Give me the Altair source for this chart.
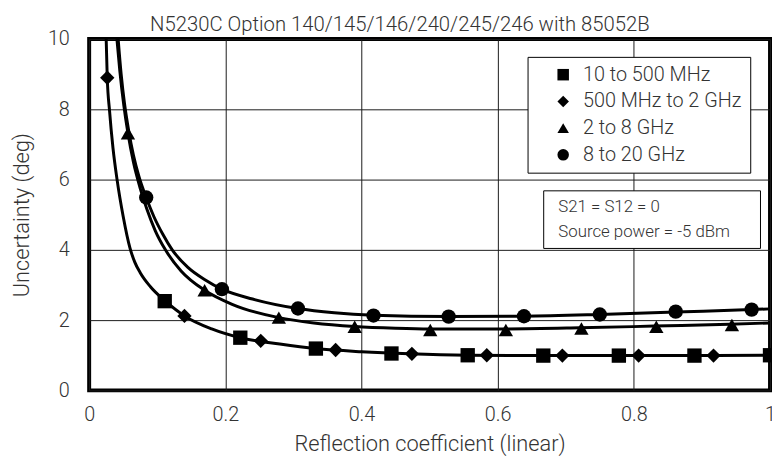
import altair as alt
import pandas as pd

FONT = "Roboto"
TXT = "#333333"

# ---- curve data ----
lo_x = [0.025, 0.0266, 0.030, 0.035, 0.041, 0.050, 0.060, 0.067, 0.075, 0.090, 0.112, 0.140, 0.180, 0.222, 0.280, 0.333, 0.400, 0.470, 0.556, 0.667, 0.780, 0.890, 1.0]
lo_y = [10.0, 8.9, 7.95, 6.9, 6.0, 4.95, 4.05, 3.65, 3.35, 2.95, 2.54, 2.12, 1.75, 1.50, 1.32, 1.19, 1.10, 1.04, 1.0, 0.99, 0.99, 0.99, 1.0]

mi_x = [0.0408, 0.045, 0.051, 0.057, 0.065, 0.075, 0.085, 0.097, 0.112, 0.135, 0.1696, 0.21, 0.2786, 0.33, 0.39, 0.45, 0.50, 0.61, 0.72, 0.83, 0.94, 1.0]
mi_y = [10.0, 9.1, 8.1, 7.32, 6.5, 5.75, 5.15, 4.55, 4.0, 3.4, 2.85, 2.45, 2.07, 1.92, 1.82, 1.77, 1.75, 1.75, 1.78, 1.83, 1.88, 1.92]

ci_x = [0.0426, 0.047, 0.052, 0.058, 0.065, 0.073, 0.0838, 0.095, 0.108, 0.122, 0.145, 0.17, 0.195, 0.24, 0.3067, 0.36, 0.4176, 0.528, 0.6386, 0.75, 0.8615, 0.973, 1.0]
ci_y = [10.0, 9.0, 8.15, 7.4, 6.7, 6.1, 5.49, 4.95, 4.45, 4.0, 3.5, 3.15, 2.88, 2.6, 2.33, 2.21, 2.14, 2.10, 2.11, 2.16, 2.23, 2.30, 2.32]

# ---- marker data ----
series = ["10 to 500 MHz", "500 MHz to 2 GHz", "2 to 8 GHz", "8 to 20 GHz"]
sq_x = [0.111, 0.222, 0.333, 0.444, 0.556, 0.667, 0.778, 0.889, 1.0]
sq_y = [2.54, 1.50, 1.19, 1.05, 1.00, 0.99, 0.99, 0.99, 1.0]
di_x = [0.0266, 0.140, 0.252, 0.362, 0.474, 0.584, 0.695, 0.807, 0.917]
di_y = [8.9, 2.12, 1.41, 1.15, 1.04, 1.0, 0.99, 0.99, 0.99]
tr_x = [0.057, 0.1696, 0.2786, 0.390, 0.501, 0.612, 0.723, 0.833, 0.944]
tr_y = [7.32, 2.85, 2.07, 1.81, 1.72, 1.72, 1.76, 1.81, 1.86]
cm_x = [0.0838, 0.195, 0.3067, 0.4176, 0.528, 0.6386, 0.75, 0.8615, 0.973]
cm_y = [5.49, 2.88, 2.33, 2.13, 2.10, 2.11, 2.16, 2.24, 2.30]

x_ticks = [0, 0.2, 0.4, 0.6, 0.8, 1.0]
y_ticks = [0, 2, 4, 6, 8, 10]

title_text = "N5230C Option 140/145/146/240/245/246 with 85052B"
note_lines = ["S21 = S12 = 0", "Source power = -5 dBm"]

curves = pd.concat([
    pd.DataFrame({"x": lo_x, "y": lo_y, "curve": "low"}),
    pd.DataFrame({"x": mi_x, "y": mi_y, "curve": "mid"}),
    pd.DataFrame({"x": ci_x, "y": ci_y, "curve": "high"}),
])
markers = pd.concat([
    pd.DataFrame({"x": sq_x, "y": sq_y, "series": series[0]}),
    pd.DataFrame({"x": di_x, "y": di_y, "series": series[1]}),
    pd.DataFrame({"x": tr_x, "y": tr_y, "series": series[2]}),
    pd.DataFrame({"x": cm_x, "y": cm_y, "series": series[3]}),
])

xs = alt.Scale(domain=[0, 1], nice=False)
ys = alt.Scale(domain=[0, 10], nice=False)

x_axis = alt.Axis(values=x_ticks, format="~g", grid=True, ticks=False, domain=False,
                  gridColor="#1a1a1a", gridWidth=1, gridOpacity=1,
                  labelFlush=False, labelPadding=14, labelFontSize=20,
                  labelColor=TXT, labelFont=FONT, labelFontWeight=300,
                  title="Reflection coefficient (linear)", titleFontSize=22,
                  titleColor=TXT, titleFont=FONT,
                  titlePadding=10, titleFontWeight=300)
y_axis = alt.Axis(values=y_ticks, grid=True, ticks=False, domain=False,
                  gridColor="#1a1a1a", gridWidth=1, gridOpacity=1,
                  labelPadding=20, labelFontSize=20,
                  labelColor=TXT, labelFont=FONT, labelFontWeight=300,
                  title="Uncertainty (deg)", titleFontSize=22, titlePadding=14,
                  titleColor=TXT, titleFont=FONT, titleFontWeight=300)

lines = alt.Chart(curves).mark_line(color="black", strokeWidth=3, interpolate="monotone", clip=True).encode(
    x=alt.X("x:Q", scale=xs, axis=x_axis),
    y=alt.Y("y:Q", scale=ys, axis=y_axis),
    detail="curve:N",
)

pts = alt.Chart(markers).mark_point(filled=True, color="black", opacity=1, size=210).encode(
    x=alt.X("x:Q", scale=xs),
    y=alt.Y("y:Q", scale=ys),
    shape=alt.Shape("series:N", sort=series,
                    scale=alt.Scale(domain=series, range=["square", "diamond", "triangle-up", "circle"]),
                    legend=alt.Legend(title=None, orient="none", legendX=443, legendY=18,
                                      fillColor="white", strokeColor="black", padding=8,
                                      labelFontSize=20, labelColor=TXT, labelFont=FONT,
                                      labelFontWeight=300,
                                      symbolFillColor="black", symbolStrokeColor="black",
                                      symbolSize=135, symbolOffset=18, labelOffset=10,
                                      rowPadding=7, labelLimit=400)),
)

box = alt.Chart().mark_rect(fill="white", stroke="black", strokeWidth=1).encode(
    x=alt.datum(0.6676, scale=xs), x2=alt.datum(0.986),
    y=alt.datum(5.68, scale=ys), y2=alt.datum(4.04),
)
note = alt.Chart(pd.DataFrame({"t": note_lines, "yy": [5.21, 4.51]})).mark_text(
    align="left", baseline="middle", fontSize=17, font=FONT, color=TXT, fontWeight=300
).encode(x=alt.datum(0.689, scale=xs), y=alt.Y("yy:Q", scale=ys), text="t:N")

chart = alt.layer(lines, pts, box, note).properties(
    width=688, height=355,
    title=alt.Title(title_text, fontSize=20.5, font=FONT, color=TXT, fontWeight=300,
                    anchor="middle", dx=-30, dy=12, offset=6),
    padding={"left": 82, "top": 29, "right": 2, "bottom": 72},
    autosize=alt.AutoSizeParams(type="none"),
).configure_view(stroke="black", strokeWidth=4)

chart.save("out.html", embed_options={"renderer": "svg", "actions": False})
